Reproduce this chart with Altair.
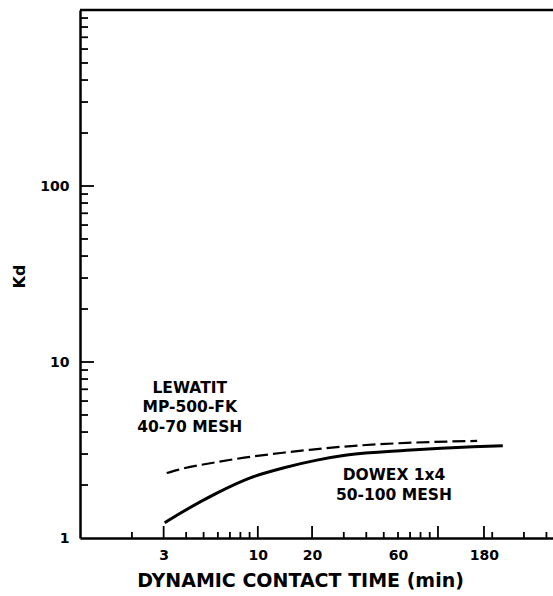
import altair as alt
import pandas as pd

# ---- data ----
dowex_t = [3.04, 3.57, 5.92, 9.0, 13.8, 21.3, 31.2, 67, 156, 229]
dowex_kd = [1.22, 1.35, 1.80, 2.19, 2.50, 2.77, 2.96, 3.15, 3.30, 3.34]
lew_t = [3.12, 3.6, 5.92, 8.4, 13.8, 19.4, 31.6, 45, 67, 165]
lew_kd = [2.34, 2.44, 2.70, 2.86, 3.05, 3.17, 3.32, 3.40, 3.47, 3.56]

x_labels = [3, 10, 20, 60, 180]
y_labels = [1, 10, 100]
x_major_ticks = [3, 10, 20, 100, 180]
x_minor_ticks = [2, 4, 5, 6, 7, 8, 9, 30, 40, 50, 60, 70, 80, 90, 200, 300, 400]
y_major_ticks = [10, 100]
y_minor_ticks = [2, 3, 4, 5, 6, 7, 8, 9, 20, 30, 40, 50, 60, 70, 80, 90,
                 200, 300, 400, 500, 600, 700, 800, 900]

lew_text = ["LEWATIT", "MP-500-FK", "40-70 MESH"]
lew_text_x = [4.19, 4.19, 4.19]
lew_text_y = [7.11, 5.55, 4.27]
dow_text = ["DOWEX 1x4", "50-100 MESH"]
dow_text_x = [57, 57]
dow_text_y = [2.28, 1.75]

X_DOMAIN = [1.03, 435]
Y_DOMAIN = [1, 1000]
W, H = 473, 528
FONT = "DejaVu Sans"

xs = alt.Scale(type="log", domain=X_DOMAIN, nice=False)
ys = alt.Scale(type="log", domain=Y_DOMAIN, nice=False)

curves = pd.DataFrame(
    {"t": dowex_t + lew_t,
     "kd": dowex_kd + lew_kd,
     "resin": ["DOWEX"] * len(dowex_t) + ["LEWATIT"] * len(lew_t)}
)

base_x = alt.X("t:Q", scale=xs, axis=alt.Axis(
    values=x_labels, ticks=False, grid=False, domainColor="black", domainWidth=2.5,
    labelFont=FONT, labelFontWeight="bold", labelFontSize=14, labelColor="black",
    labelPadding=10, labelFlush=False,
    title="DYNAMIC CONTACT TIME (min)", titleFont=FONT, titleFontWeight="bold",
    titleFontSize=19, titleColor="black", titlePadding=9, titleX=220))
base_y = alt.Y("kd:Q", scale=ys, axis=alt.Axis(
    values=y_labels, ticks=False, grid=False, domainColor="black", domainWidth=2.5,
    labelFont=FONT, labelFontWeight="bold", labelFontSize=14, labelColor="black",
    labelPadding=11, labelFlush=False,
    title="Kd", titleFont=FONT, titleFontWeight="bold", titleFontSize=16,
    titleColor="black", titlePadding=12, titleY=266))

dowex_line = alt.Chart(curves).transform_filter(alt.datum.resin == "DOWEX").mark_line(
    color="black", strokeWidth=3, interpolate="monotone", clip=True
).encode(x=base_x, y=base_y)

lew_line = alt.Chart(curves).transform_filter(alt.datum.resin == "LEWATIT").mark_line(
    color="black", strokeWidth=2.2, strokeDash=[13, 5], interpolate="monotone", clip=True
).encode(x=alt.X("t:Q", scale=xs), y=alt.Y("kd:Q", scale=ys))

x_ticks_major = alt.Chart(pd.DataFrame({"v": x_major_ticks})).mark_rule(
    color="black", strokeWidth=1.8).encode(
    x=alt.X("v:Q", scale=xs), y=alt.value(H), y2=alt.value(H - 12))
x_ticks_minor = alt.Chart(pd.DataFrame({"v": x_minor_ticks})).mark_rule(
    color="black", strokeWidth=1.8).encode(
    x=alt.X("v:Q", scale=xs), y=alt.value(H), y2=alt.value(H - 6))
y_ticks_major = alt.Chart(pd.DataFrame({"v": y_major_ticks})).mark_rule(
    color="black", strokeWidth=1.8).encode(
    y=alt.Y("v:Q", scale=ys), x=alt.value(0), x2=alt.value(14))
y_ticks_minor = alt.Chart(pd.DataFrame({"v": y_minor_ticks})).mark_rule(
    color="black", strokeWidth=1.8).encode(
    y=alt.Y("v:Q", scale=ys), x=alt.value(0), x2=alt.value(8))

top_border = alt.Chart(pd.DataFrame({"a": [0]})).mark_rule(
    color="black", strokeWidth=2.5).encode(
    x=alt.value(0), x2=alt.value(W), y=alt.value(0))

labels = pd.DataFrame({"txt": lew_text + dow_text,
                       "tx": lew_text_x + dow_text_x,
                       "ty": lew_text_y + dow_text_y})
text = alt.Chart(labels).mark_text(
    font=FONT, fontWeight="bold", fontSize=15.5, color="black",
    align="center", baseline="middle"
).encode(x=alt.X("tx:Q", scale=xs), y=alt.Y("ty:Q", scale=ys), text="txt:N")

chart = alt.layer(
    dowex_line, lew_line, x_ticks_major, x_ticks_minor,
    y_ticks_major, y_ticks_minor, top_border, text
).properties(
    width=W, height=H,
    autosize=alt.AutoSizeParams(type="none"),
    padding={"left": 80, "top": 10, "right": 0, "bottom": 58},
    background="white",
).configure_view(stroke=None)

chart.save("out.html", embed_options={"renderer": "svg", "actions": False})
